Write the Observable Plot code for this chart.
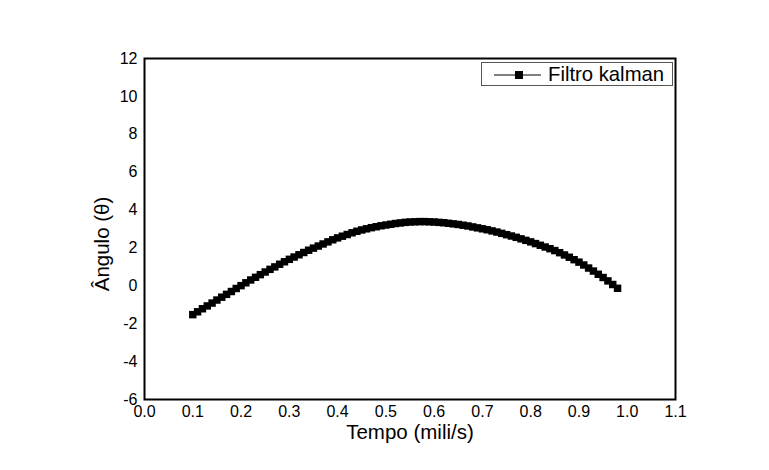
<!DOCTYPE html>
<html>
<head>
<meta charset="utf-8">
<script src="https://cdn.jsdelivr.net/npm/d3@7"></script>
<script src="https://cdn.jsdelivr.net/npm/@observablehq/plot@0.6"></script>
<style>
  html, body { margin: 0; padding: 0; background: #ffffff; }
  #wrap { position: relative; width: 769px; height: 470px; font-family: "Liberation Sans", Arial, sans-serif; }
  #legend { position: absolute; left: 481px; top: 62px; width: 190px; height: 22px; border: 1px solid #555; background: #fff; box-sizing: content-box; }
  #legend svg { position: absolute; left: 0; top: 0; }
  #legend span { position: absolute; left: 66px; top: -1px; font-size: 20.3px; line-height: 24px; color: #000; white-space: nowrap; }
</style>
</head>
<body>
<div id="wrap"></div>
<script>
const seriesName = "Filtro kalman";
const xLabel = "Tempo (mili/s)";
const yLabel = "Ângulo (θ)";
const xTicks = [0.0, 0.1, 0.2, 0.3, 0.4, 0.5, 0.6, 0.7, 0.8, 0.9, 1.0, 1.1];
const yTicks = [-6, -4, -2, 0, 2, 4, 6, 8, 10, 12];

const tempo = [
  0.10, 0.11, 0.12, 0.13, 0.14, 0.15, 0.16, 0.17, 0.18, 0.19,
  0.20, 0.21, 0.22, 0.23, 0.24, 0.25, 0.26, 0.27, 0.28, 0.29,
  0.30, 0.31, 0.32, 0.33, 0.34, 0.35, 0.36, 0.37, 0.38, 0.39,
  0.40, 0.41, 0.42, 0.43, 0.44, 0.45, 0.46, 0.47, 0.48, 0.49,
  0.50, 0.51, 0.52, 0.53, 0.54, 0.55, 0.56, 0.57, 0.58, 0.59,
  0.60, 0.61, 0.62, 0.63, 0.64, 0.65, 0.66, 0.67, 0.68, 0.69,
  0.70, 0.71, 0.72, 0.73, 0.74, 0.75, 0.76, 0.77, 0.78, 0.79,
  0.80, 0.81, 0.82, 0.83, 0.84, 0.85, 0.86, 0.87, 0.88, 0.89,
  0.90, 0.91, 0.92, 0.93, 0.94, 0.95, 0.96, 0.97, 0.98
];
const angulo = [
  -1.52, -1.37, -1.21, -1.06, -0.91, -0.75, -0.60, -0.45, -0.30, -0.14,
   0.01,  0.16,  0.31,  0.45,  0.59,  0.73,  0.87,  1.00,  1.14,  1.27,
   1.40,  1.52,  1.64,  1.76,  1.88,  1.99,  2.10,  2.21,  2.32,  2.43,
   2.53,  2.62,  2.71,  2.80,  2.88,  2.95,  3.01,  3.07,  3.12,  3.17,
   3.21,  3.25,  3.29,  3.32,  3.35,  3.37,  3.38,  3.39,  3.39,  3.38,
   3.37,  3.35,  3.33,  3.30,  3.27,  3.24,  3.20,  3.16,  3.11,  3.06,
   3.01,  2.96,  2.90,  2.84,  2.77,  2.70,  2.63,  2.56,  2.48,  2.40,
   2.32,  2.23,  2.14,  2.05,  1.96,  1.86,  1.75,  1.63,  1.51,  1.38,
   1.25,  1.10,  0.94,  0.78,  0.61,  0.44,  0.26,  0.07, -0.13
];

const data = tempo.map((t, i) => ({tempo: t, angulo: angulo[i]}));

const chart = Plot.plot({
  width: 769,
  height: 470,
  marginLeft: 144,
  marginRight: 94,
  marginTop: 58,
  marginBottom: 71,
  style: {fontFamily: "'Liberation Sans', Arial, sans-serif", fontSize: "16px", background: "#ffffff", color: "#000000", overflow: "visible"},
  x: {domain: [0, 1.1]},
  y: {domain: [-6, 12]},
  marks: [
    Plot.axisX({ticks: xTicks, tickSize: 0, tickPadding: 6, tickFormat: d3.format(".1f"), label: null, fontSize: 16}),
    Plot.axisY({ticks: yTicks, tickSize: 0, tickPadding: 7, tickFormat: d => String(d), label: null, fontSize: 16}),
    Plot.line(data, {x: "tempo", y: "angulo", stroke: "#000", strokeWidth: 1}),
    Plot.dot(data, {x: "tempo", y: "angulo", symbol: "square", r: 4.2, fill: "#000", stroke: "none"}),
    Plot.frame({stroke: "#000", strokeWidth: 2}),
    Plot.text([xLabel], {frameAnchor: "bottom", text: d => d, dy: 33, fontSize: 20.5, lineAnchor: "middle", textAnchor: "middle"}),
    Plot.text([yLabel], {frameAnchor: "left", text: d => d, dx: -42, dy: 15, rotate: -90, fontSize: 20.5, lineAnchor: "middle", textAnchor: "middle"})
  ]
});

const wrap = document.getElementById("wrap");
wrap.appendChild(chart);

const legend = document.createElement("div");
legend.id = "legend";
legend.innerHTML =
  '<svg width="70" height="22"><line x1="12" y1="12" x2="59" y2="12" stroke="#000" stroke-width="1"/>' +
  '<rect x="33" y="8" width="8" height="8" fill="#000"/></svg>' +
  '<span></span>';
legend.querySelector("span").textContent = seriesName;
wrap.appendChild(legend);
</script>
</body>
</html>
